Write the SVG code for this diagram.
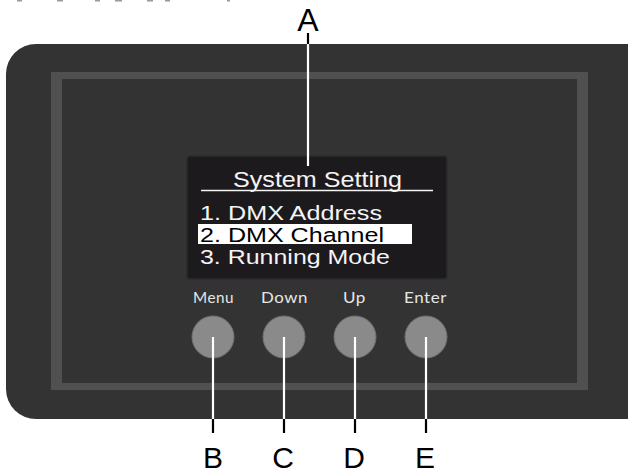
<svg xmlns="http://www.w3.org/2000/svg" width="628" height="474" viewBox="0 0 628 474">
<style>
.scr{font-family:"Liberation Sans",Arial,sans-serif;font-size:19.5px;fill:#f4f4f4}
.ttl{font-family:"Liberation Sans",Arial,sans-serif;font-size:22px;fill:#f4f4f4}
.btnlbl{font-family:Lato,"Open Sans",sans-serif;font-size:15px;fill:#e6e6e6;text-anchor:middle;letter-spacing:0.5px}
.call{font-family:"Liberation Sans",Arial,sans-serif;font-size:30px;fill:#000;text-anchor:middle}
.btn{fill:#8a8a8a;stroke:#707070;stroke-width:1}
.lw{stroke:#ffffff;stroke-width:2.2}
.lb{stroke:#000000;stroke-width:2.2}
</style>
<rect width="628" height="474" fill="#ffffff"/>
<g id="fragments" fill="#9a9a9a">
<rect x="17" y="0" width="5" height="1.5"/>
<rect x="57" y="0" width="6" height="1.5"/>
<rect x="95" y="0" width="5" height="1.5"/>
<rect x="115" y="0" width="7" height="1.5"/>
<rect x="147" y="0" width="6" height="1.5"/>
<rect x="165" y="0" width="5" height="1.5"/>
<rect x="227" y="0" width="3" height="1.5"/>
</g>
<g id="panel">
<rect x="6" y="44" width="660" height="375" rx="30" ry="30" fill="#333333"/>
<path d="M51 72H588V390H51Z M62 79V383H577V79Z" fill="#505050" fill-rule="evenodd"/>
</g>
<g id="screen">
<rect x="187" y="156" width="260" height="123" rx="3" fill="#1d1a1e" stroke="#2c2b2d" stroke-width="1.5"/>
<text class="ttl" x="233" y="187" textLength="169" lengthAdjust="spacingAndGlyphs">System Setting</text>
<line x1="201" y1="190.5" x2="433" y2="190.5" stroke="#f4f4f4" stroke-width="1.5"/>
<text class="scr" x="200" y="220" textLength="182" lengthAdjust="spacingAndGlyphs">1. DMX Address</text>
<rect x="198" y="224" width="214" height="20" fill="#ffffff"/>
<text class="scr" x="200" y="242" textLength="184" lengthAdjust="spacingAndGlyphs" style="fill:#000">2. DMX Channel</text>
<text class="scr" x="200" y="264" textLength="190" lengthAdjust="spacingAndGlyphs">3. Running Mode</text>
</g>
<g id="btn-menu">
<text class="btnlbl" x="213.5" y="303" textLength="41" lengthAdjust="spacingAndGlyphs">Menu</text>
<circle class="btn" cx="213" cy="337" r="21"/>
</g>
<g id="btn-down">
<text class="btnlbl" x="284.5" y="303" textLength="47" lengthAdjust="spacingAndGlyphs">Down</text>
<circle class="btn" cx="284" cy="337" r="21"/>
</g>
<g id="btn-up">
<text class="btnlbl" x="354.5" y="303" textLength="23" lengthAdjust="spacingAndGlyphs">Up</text>
<circle class="btn" cx="355" cy="337" r="21"/>
</g>
<g id="btn-enter">
<text class="btnlbl" x="425.5" y="303" textLength="43" lengthAdjust="spacingAndGlyphs">Enter</text>
<circle class="btn" cx="426" cy="337" r="21"/>
</g>
<g id="connectors">
<line class="lb" x1="308" y1="33" x2="308" y2="44"/>
<line class="lw" x1="308" y1="44" x2="308" y2="166"/>
<line class="lw" x1="213" y1="337" x2="213" y2="419"/>
<line class="lb" x1="213" y1="419" x2="213" y2="433"/>
<line class="lw" x1="284" y1="337" x2="284" y2="419"/>
<line class="lb" x1="284" y1="419" x2="284" y2="433"/>
<line class="lw" x1="355" y1="337" x2="355" y2="419"/>
<line class="lb" x1="355" y1="419" x2="355" y2="433"/>
<line class="lw" x1="426" y1="337" x2="426" y2="419"/>
<line class="lb" x1="426" y1="419" x2="426" y2="433"/>
</g>
<g id="labels">
<text class="call" x="308" y="31" style="font-size:32px">A</text>
<text class="call" x="213" y="468">B</text>
<text class="call" x="283" y="468">C</text>
<text class="call" x="354" y="468">D</text>
<text class="call" x="425" y="468">E</text>
</g>
</svg>
